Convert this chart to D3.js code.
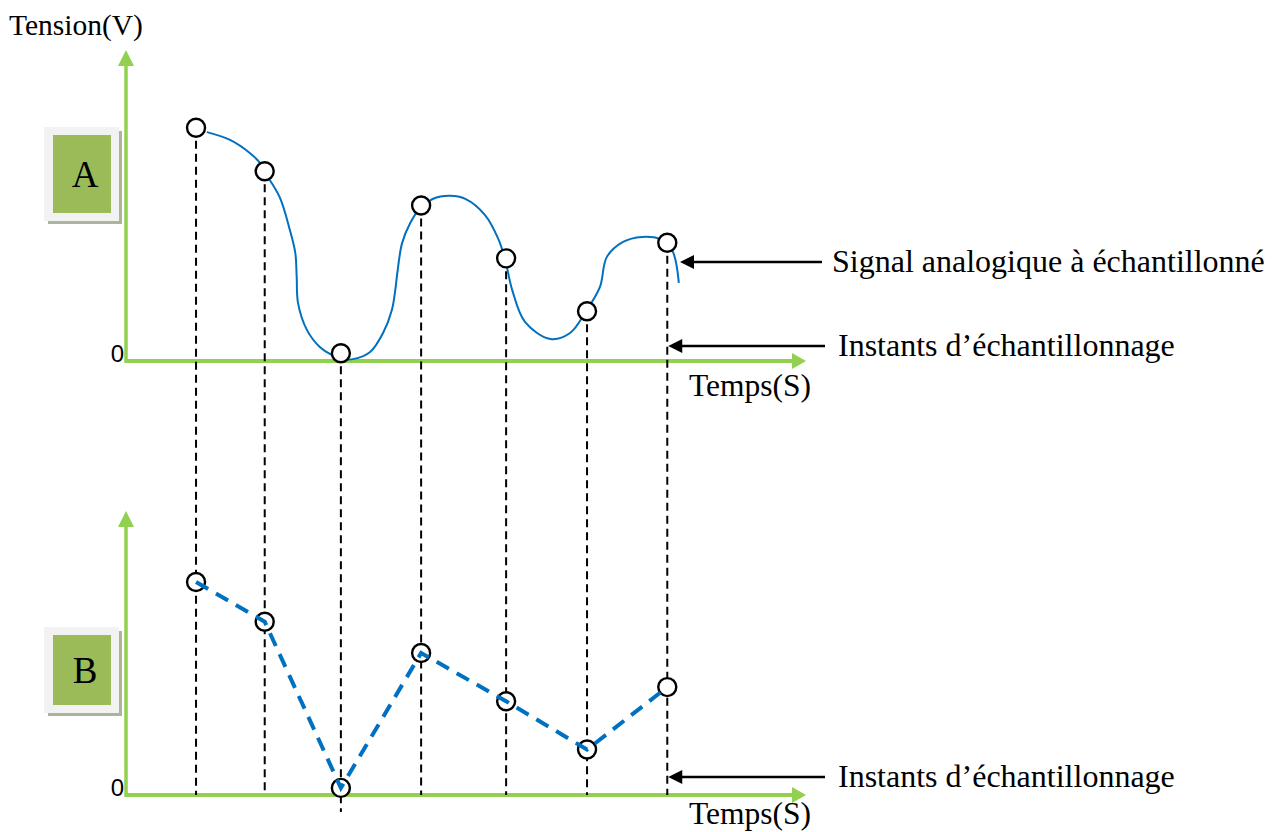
<!DOCTYPE html>
<html>
<head>
<meta charset="utf-8">
<script src="https://cdn.jsdelivr.net/npm/d3@7"></script>
<style>
  body { margin: 0; background: #fff; }
  svg { display: block; }
</style>
</head>
<body>
<div id="graphArea"></div>
<script>
// sample instants (s) and sampled voltages (V)
var sampleTimes = [1.03, 2.04, 3.16, 4.34, 5.59, 6.78, 7.96]
var sampleValues = [7.5, 6.1, 0.25, 5.0, 3.3, 1.6, 3.8]

// analog signal [t, v]
var signal = [
  [1.19, 7.36], [1.53, 7.11], [1.82, 6.69], [1.97, 6.37], [2.04, 6.08],
  [2.26, 5.27], [2.41, 4.21], [2.49, 3.47], [2.51, 2.70], [2.53, 1.86],
  [2.66, 1.00], [2.85, 0.45], [3.03, 0.19], [3.22, 0.06], [3.34, 0.06],
  [3.59, 0.29], [3.78, 0.90], [3.91, 1.64], [3.96, 2.28], [3.99, 2.83],
  [4.06, 3.79], [4.18, 4.44], [4.34, 4.95], [4.51, 5.21], [4.76, 5.31],
  [4.99, 5.21], [5.28, 4.69], [5.47, 3.95], [5.57, 3.31], [5.68, 2.28],
  [5.87, 1.25], [6.24, 0.71], [6.53, 0.90], [6.76, 1.58], [6.97, 2.38],
  [7.07, 3.34], [7.31, 3.83], [7.59, 3.99], [7.85, 3.92], [8.03, 3.57],
  [8.13, 2.51]
]

var axisMax = 10
var yLabel = "Tension(V)"
var xLabel = "Temps(S)"
var zeroLabel = "0"
var panelNames = ["A", "B"]
var signalNote = "Signal analogique à échantillonné"
var instantNote = "Instants d\u2019échantillonnage"

var width = 1274
var height = 832
var green = "#92d050"
var blue = "#0070c0"
var serif = '"Liberation Serif", "Times New Roman", serif'

var svg = d3.select("#graphArea")
  .append("svg")
    .attr("width", width)
    .attr("height", height)

var x = d3.scaleLinear().domain([0, axisMax]).range([126, 806])
var yTop = d3.scaleLinear().domain([0, axisMax]).range([361, 50])
var yBot = d3.scaleLinear().domain([0, axisMax]).range([795, 511])

function arrowHead(g, tx, ty, dir, len, half, color)
{
  var pts
  if(dir == "up") pts = [[tx, ty], [tx - half, ty + len], [tx + half, ty + len]]
  else if(dir == "right") pts = [[tx, ty], [tx - len, ty - half], [tx - len, ty + half]]
  else pts = [[tx, ty], [tx + len, ty - half], [tx + len, ty + half]]
  g.append("polygon")
    .attr("points", pts.map(function(p) { return p.join(","); }).join(" "))
    .attr("fill", color)
}

function drawAxes(y, panel)
{
  var g = svg.append("g")
  var x0 = x(0), y0 = y(0)
  g.append("line")
    .attr("x1", x0).attr("y1", y0 + 2)
    .attr("x2", x0).attr("y2", y(axisMax) + 14)
    .attr("stroke", green).attr("stroke-width", 3.5)
  arrowHead(g, x0, y(axisMax), "up", 16, 8, green)
  g.append("line")
    .attr("x1", x0 - 1).attr("y1", y0)
    .attr("x2", x(axisMax) - 13).attr("y2", y0)
    .attr("stroke", green).attr("stroke-width", 4)
  arrowHead(g, x(axisMax), y0, "right", 14, 8, green)

  g.append("text")
    .attr("x", x0 - 2).attr("y", y0 + 1)
    .attr("text-anchor", "end")
    .style("font-family", '"Liberation Sans", Arial, sans-serif')
    .style("font-size", "24px")
    .text(zeroLabel)

  g.append("text")
    .attr("x", 689).attr("y", y0 + (panel == 0 ? 35 : 29))
    .style("font-family", serif)
    .style("font-size", "31.5px")
    .text(xLabel)

  // letter badge
  var bx = 44, by = y(axisMax) + (panel == 0 ? 77 : 116), bw = 75, bh = panel == 0 ? 94 : 86
  g.append("rect").attr("x", bx + 4).attr("y", by + 4).attr("width", bw - 1).attr("height", bh - 1)
    .attr("fill", "#aab59c")
  g.append("rect").attr("x", bx).attr("y", by).attr("width", bw).attr("height", bh)
    .attr("fill", "#f2f2f2")
  g.append("rect").attr("x", bx + 9).attr("y", by + 8).attr("width", bw - 17).attr("height", bh - 16)
    .attr("fill", "#9bbb59")
  g.append("text")
    .attr("x", bx + 41).attr("y", by + bh / 2 + 13)
    .attr("text-anchor", "middle")
    .style("font-family", serif)
    .style("font-size", "37px")
    .text(panelNames[panel])
}

drawAxes(yTop, 0)
drawAxes(yBot, 1)

svg.append("text")
  .attr("x", 9).attr("y", 35)
  .style("font-family", serif)
  .style("font-size", "29.5px")
  .text(yLabel)

// sampling instants: dashed drops from the top samples to the lower time axis
var r = 9
svg.append("g").selectAll("line")
  .data(sampleTimes)
  .enter()
  .append("line")
    .attr("x1", function(d) { return x(d); })
    .attr("x2", function(d) { return x(d); })
    .attr("y1", function(d, i) { return yTop(sampleValues[i]); })
    .attr("y2", function(d, i) {
      return yBot(sampleValues[i]) + r > yBot(0) - 4 ? yBot(0) + 17 : yBot(0);
    })
    .attr("stroke", "#000")
    .attr("stroke-width", 2)
    .attr("stroke-dasharray", "8,5")

// analog signal
svg.append("path")
  .datum(signal)
  .attr("d", d3.line()
    .x(function(d) { return x(d[0]); })
    .y(function(d) { return yTop(d[1]); })
    .curve(d3.curveCatmullRom.alpha(0.5)))
  .attr("fill", "none")
  .attr("stroke", blue)
  .attr("stroke-width", 2)

var samples = sampleTimes.map(function(t, i) { return [t, sampleValues[i]]; })

function drawCircles(y)
{
  svg.append("g").selectAll("circle")
    .data(samples)
    .enter()
    .append("circle")
      .attr("cx", function(d) { return x(d[0]); })
      .attr("cy", function(d) { return y(d[1]); })
      .attr("r", r)
      .attr("fill", "#fff")
      .attr("stroke", "#000")
      .attr("stroke-width", 2.4)
}
drawCircles(yTop)
drawCircles(yBot)

// sampled signal (dashed), over the bottom circles
svg.append("path")
  .datum(samples)
  .attr("d", d3.line()
    .x(function(d) { return x(d[0]); })
    .y(function(d) { return yBot(d[1]); }))
  .attr("fill", "none")
  .attr("stroke", blue)
  .attr("stroke-width", 4)
  .attr("stroke-dasharray", "14,9")

// callouts
function note(txt, tipX, yy, tailX, textX)
{
  var g = svg.append("g")
  g.append("line")
    .attr("x1", tailX).attr("y1", yy)
    .attr("x2", tipX + 12).attr("y2", yy)
    .attr("stroke", "#000").attr("stroke-width", 2.5)
  arrowHead(g, tipX, yy, "left", 14, 7, "#000")
  g.append("text")
    .attr("x", textX).attr("y", yy + 10)
    .style("font-family", serif)
    .style("font-size", "32px")
    .text(txt)
}
note(signalNote, 680, 262, 822, 832)
note(instantNote, x(sampleTimes[6]) + 1, 346, 825, 838)
note(instantNote, x(sampleTimes[6]) + 1, 777, 825, 838)
</script>
</body>
</html>
